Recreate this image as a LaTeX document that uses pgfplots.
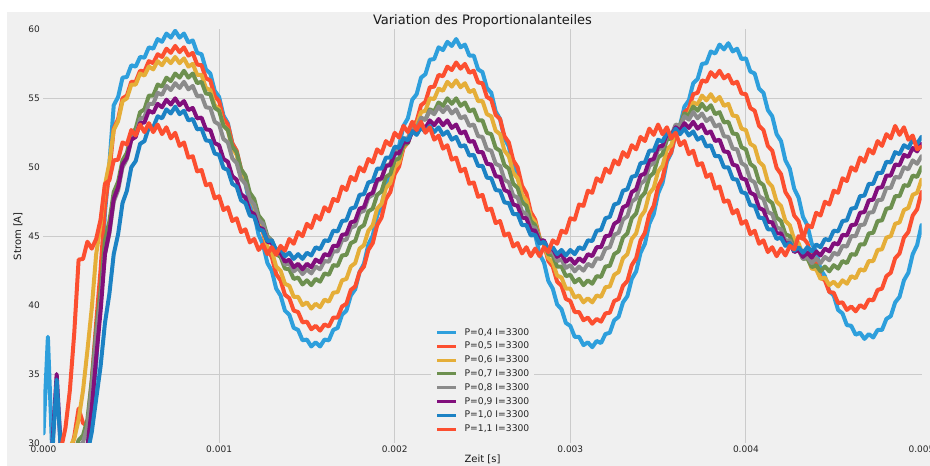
\documentclass[border=0pt]{standalone}
\usepackage{fontspec}
\setmainfont{DejaVu Sans}
\usepackage{pgfplots}
\usepackage{pgfplotstable}
\pgfplotsset{compat=1.18}

\definecolor{bgc}{HTML}{F0F0F0}
\definecolor{gridc}{HTML}{CBCBCB}
\definecolor{cA}{HTML}{2E9FDC}
\definecolor{cB}{HTML}{FC4F30}
\definecolor{cC}{HTML}{E5AE38}
\definecolor{cD}{HTML}{6D904F}
\definecolor{cE}{HTML}{8B8B8B}
\definecolor{cF}{HTML}{810F7C}
\definecolor{cG}{HTML}{1C82C4}
\definecolor{cH}{HTML}{FC4F30}

% Strom [A] ueber Zeit [s], I = 3300, P = 0,4 ... 1,1
\pgfplotstableread{
t p04 p05 p06 p07 p08 p09 p10 p11
0.000000 30.7 29.2 29.2 29.2 29.2 29.2 29.2 29.3
0.000025 37.7 28.8 28.8 28.8 28.8 29.05 28.8 28.7
0.000050 29.2 29.2 29.2 29.2 29.2 29.7 29.2 29.3
0.000075 28.8 28.8 28.8 28.8 28.8 35.0 34.6 28.85
0.000100 29.2 29.2 29.2 29.2 29.2 29.2 29.2 29.6
0.000125 28.8 28.8 29.05 28.8 28.8 28.8 28.8 31.1
0.000150 29.2 29.2 29.7 29.2 29.2 29.2 29.2 33.8
0.000175 28.8 30.45 30.3 29.3 29.05 28.8 28.8 37.95
0.000200 29.2 32.5 31.7 30.2 29.7 29.2 29.2 43.3
0.000225 29.05 31.45 33.8 30.55 30.05 29.05 28.8 43.35
0.000250 29.7 31.2 36.7 31.7 31.2 29.7 29.2 44.6
0.000275 32.3 34.55 39.8 34.55 34.05 32.55 30.8 44.1
0.000300 35.7 38.7 43.7 38.2 37.7 36.2 33.2 44.8
0.000325 40.8 42.55 45.8 41.05 40.3 39.55 35.55 46.2
0.000350 46.7 47.2 48.7 44.7 43.7 43.7 38.7 48.8
0.000375 50.2 49.6 50.3 46.05 45.2 45.3 40.8 49.05
0.000400 54.5 52.8 52.7 48.2 47.5 47.7 43.7 50.5
0.000425 55.1 53.5 53.35 48.95 48.35 48.55 45.15 50.55
0.000450 56.5 55.0 54.8 50.5 50.0 50.2 47.4 51.8
0.000475 56.55 55.2 55.0 51.05 50.6 50.7 48.3 51.65
0.000500 57.4 56.2 56.0 52.4 52.0 52.0 50.0 52.7
0.000525 57.3 56.2 56.0 52.8 52.35 52.2 50.45 52.3
0.000550 58.0 57.0 56.8 54.0 53.5 53.2 51.7 53.1
0.000575 57.95 56.95 56.65 54.2 53.65 53.25 51.9 52.55
0.000600 58.7 57.7 57.3 55.2 54.6 54.1 52.9 53.2
0.000625 58.6 57.55 57.1 55.2 54.6 53.95 52.9 52.55
0.000650 59.3 58.2 57.7 56.0 55.4 54.6 53.7 53.1
0.000675 59.1 58.0 57.4 55.85 55.25 54.35 53.55 52.4
0.000700 59.7 58.6 57.9 56.5 55.9 54.9 54.2 52.9
0.000725 59.4 58.3 57.55 56.25 55.6 54.55 53.9 52.1
0.000750 59.9 58.8 58.0 56.8 56.1 55.0 54.4 52.5
0.000775 59.4 58.35 57.55 56.5 55.75 54.5 53.85 51.55
0.000800 59.7 58.7 57.9 57.0 56.2 54.8 54.1 51.8
0.000825 59.05 58.1 57.3 56.5 55.65 54.15 53.4 50.7
0.000850 59.2 58.3 57.5 56.8 55.9 54.3 53.5 50.8
0.000875 58.3 57.45 56.7 56.1 55.15 53.55 52.75 49.7
0.000900 58.2 57.4 56.7 56.2 55.2 53.6 52.8 49.8
0.000925 57.1 56.45 55.75 55.35 54.35 52.75 51.95 48.7
0.000950 56.8 56.3 55.6 55.3 54.3 52.7 51.9 48.8
0.000975 55.55 55.15 54.5 54.3 53.3 51.75 51.0 47.75
0.001000 55.1 54.8 54.2 54.1 53.1 51.6 50.9 47.9
0.001025 53.75 53.55 53.05 53.0 52.05 50.6 49.95 46.9
0.001050 53.2 53.1 52.7 52.7 51.8 50.4 49.8 47.1
0.001075 51.75 51.75 51.4 51.5 50.65 49.35 48.8 46.1
0.001100 51.1 51.2 50.9 51.1 50.3 49.1 48.6 46.3
0.001125 49.55 49.85 49.6 49.85 49.15 48.05 47.6 45.3
0.001150 48.8 49.3 49.1 49.4 48.8 47.8 47.4 45.5
0.001175 47.3 47.85 47.75 48.15 47.65 46.8 46.5 44.55
0.001200 46.6 47.2 47.2 47.7 47.3 46.6 46.4 44.8
0.001225 45.1 45.85 45.9 46.5 46.2 45.65 45.5 44.0
0.001250 44.4 45.3 45.4 46.1 45.9 45.5 45.4 44.4
0.001275 43.05 44.0 44.25 45.0 44.9 44.6 44.65 43.7
0.001300 42.5 43.5 43.9 44.7 44.7 44.5 44.7 44.2
0.001325 41.2 42.25 42.8 43.7 43.8 43.75 44.0 43.65
0.001350 40.7 41.8 42.5 43.5 43.7 43.8 44.1 44.3
0.001375 39.6 40.75 41.55 42.65 42.95 43.15 43.55 43.95
0.001400 39.3 40.5 41.4 42.6 43.0 43.3 43.8 44.8
0.001425 38.35 39.6 40.6 41.9 42.45 42.75 43.35 44.45
0.001450 38.2 39.5 40.6 42.0 42.7 43.0 43.7 45.3
0.001475 37.45 38.75 40.0 41.5 42.25 42.6 43.35 45.0
0.001500 37.5 38.8 40.2 41.8 42.6 43.0 43.8 45.9
0.001525 37.0 38.25 39.75 41.45 42.3 42.75 43.6 45.6
0.001550 37.3 38.5 40.1 41.9 42.8 43.3 44.2 46.5
0.001575 37.0 38.15 39.85 41.7 42.6 43.1 44.05 46.2
0.001600 37.5 38.6 40.4 42.3 43.2 43.7 44.7 47.1
0.001625 37.45 38.45 40.25 42.2 43.15 43.6 44.65 46.8
0.001650 38.2 39.1 40.9 42.9 43.9 44.3 45.4 47.7
0.001675 38.35 39.1 40.95 42.85 43.9 44.3 45.35 47.55
0.001700 39.3 39.9 41.8 43.6 44.7 45.1 46.1 48.6
0.001725 39.6 40.1 41.9 43.65 44.75 45.15 46.15 48.35
0.001750 40.7 41.1 42.8 44.5 45.6 46.0 47.0 49.3
0.001775 41.15 41.35 43.05 44.65 45.75 46.1 47.1 49.05
0.001800 42.4 42.4 44.1 45.6 46.7 47.0 48.0 50.0
0.001825 43.0 42.8 44.35 45.8 46.85 47.1 48.05 49.7
0.001850 44.4 44.0 45.4 46.8 47.8 48.0 48.9 50.6
0.001875 45.05 44.5 45.8 47.0 48.0 48.15 49.0 50.35
0.001900 46.5 45.8 47.0 48.0 49.0 49.1 49.9 51.3
0.001925 47.2 46.35 47.35 48.25 49.15 49.2 49.9 51.0
0.001950 48.7 47.7 48.5 49.3 50.1 50.1 50.7 51.9
0.001975 49.4 48.2 48.85 49.5 50.25 50.15 50.7 51.6
0.002000 50.9 49.5 50.0 50.5 51.2 51.0 51.5 52.5
0.002025 51.55 50.05 50.35 50.65 51.25 51.0 51.4 52.15
0.002050 53.0 51.4 51.5 51.6 52.1 51.8 52.1 53.0
0.002075 53.55 51.8 51.8 51.75 52.1 51.8 51.95 52.55
0.002100 54.9 53.0 52.9 52.7 52.9 52.6 52.6 53.3
0.002125 55.3 53.35 53.05 52.7 52.85 52.45 52.35 52.7
0.002150 56.5 54.5 54.0 53.5 53.6 53.1 52.9 53.3
0.002175 56.75 54.75 54.1 53.45 53.45 52.85 52.55 52.5
0.002200 57.8 55.8 55.0 54.2 54.1 53.4 53.0 52.9
0.002225 57.85 55.85 54.95 54.05 53.85 53.05 52.55 52.0
0.002250 58.7 56.7 55.7 54.7 54.4 53.5 52.9 52.3
0.002275 58.5 56.6 55.55 54.45 54.0 53.05 52.35 51.35
0.002300 59.1 57.3 56.2 55.0 54.4 53.4 52.6 51.6
0.002325 58.8 57.05 55.85 54.6 53.9 52.85 52.0 50.55
0.002350 59.3 57.6 56.3 55.0 54.2 53.1 52.2 50.7
0.002375 58.7 57.15 55.8 54.45 53.55 52.45 51.5 49.7
0.002400 58.9 57.5 56.1 54.7 53.7 52.6 51.6 49.9
0.002425 58.1 56.85 55.45 54.05 53.0 51.85 50.85 48.8
0.002450 58.1 57.0 55.6 54.2 53.1 51.9 50.9 48.9
0.002475 57.1 56.15 54.8 53.4 52.25 51.1 50.1 47.85
0.002500 56.9 56.1 54.8 53.4 52.2 51.1 50.1 48.0
0.002525 55.75 55.1 53.85 52.5 51.3 50.25 49.25 46.9
0.002550 55.4 54.9 53.7 52.4 51.2 50.2 49.2 47.0
0.002575 54.05 53.8 52.65 51.4 50.25 49.35 48.35 45.95
0.002600 53.5 53.5 52.4 51.2 50.1 49.3 48.3 46.1
0.002625 52.1 52.25 51.2 50.15 49.1 48.35 47.45 45.05
0.002650 51.5 51.8 50.8 49.9 48.9 48.2 47.4 45.2
0.002675 50.05 50.5 49.6 48.8 47.95 47.3 46.6 44.25
0.002700 49.4 50.0 49.2 48.5 47.8 47.2 46.6 44.5
0.002725 47.9 48.65 48.0 47.45 46.8 46.35 45.8 43.75
0.002750 47.2 48.1 47.6 47.2 46.6 46.3 45.8 44.2
0.002775 45.75 46.75 46.4 46.1 45.7 45.45 45.05 43.55
0.002800 45.1 46.2 46.0 45.8 45.6 45.4 45.1 44.1
0.002825 43.7 44.9 44.85 44.8 44.7 44.65 44.45 43.55
0.002850 43.1 44.4 44.5 44.6 44.6 44.7 44.6 44.2
0.002875 41.75 43.2 43.4 43.7 43.85 44.0 44.0 43.85
0.002900 41.2 42.8 43.1 43.6 43.9 44.1 44.2 44.7
0.002925 40.05 41.7 42.15 42.8 43.2 43.5 43.7 44.45
0.002950 39.7 41.4 42.0 42.8 43.3 43.7 44.0 45.4
0.002975 38.7 40.45 41.2 42.1 42.7 43.15 43.6 45.25
0.003000 38.5 40.3 41.2 42.2 42.9 43.4 44.0 46.3
0.003025 37.7 39.5 40.55 41.65 42.45 43.0 43.7 46.2
0.003050 37.7 39.5 40.7 41.9 42.8 43.4 44.2 47.3
0.003075 37.1 38.9 40.2 41.45 42.5 43.15 44.05 47.2
0.003100 37.3 39.1 40.5 41.8 43.0 43.7 44.7 48.3
0.003125 36.95 38.65 40.2 41.55 42.8 43.55 44.65 48.15
0.003150 37.4 39.0 40.7 42.1 43.4 44.2 45.4 49.2
0.003175 37.25 38.8 40.6 42.05 43.35 44.2 45.45 48.95
0.003200 37.9 39.4 41.3 42.8 44.1 45.0 46.3 49.9
0.003225 38.0 39.45 41.35 42.85 44.2 45.05 46.4 49.6
0.003250 38.9 40.3 42.2 43.7 45.1 45.9 47.3 50.5
0.003275 39.15 40.45 42.4 43.9 45.25 46.1 47.4 50.2
0.003300 40.2 41.4 43.4 44.9 46.2 47.1 48.3 51.1
0.003325 40.65 41.75 43.7 45.2 46.45 47.25 48.4 50.75
0.003350 41.9 42.9 44.8 46.3 47.5 48.2 49.3 51.6
0.003375 42.45 43.4 45.2 46.65 47.75 48.4 49.4 51.3
0.003400 43.8 44.7 46.4 47.8 48.8 49.4 50.3 52.2
0.003425 44.45 45.25 46.85 48.15 49.05 49.55 50.35 51.9
0.003450 45.9 46.6 48.1 49.3 50.1 50.5 51.2 52.8
0.003475 46.6 47.2 48.5 49.6 50.3 50.6 51.2 52.35
0.003500 48.1 48.6 49.7 50.7 51.3 51.5 52.0 53.1
0.003525 48.85 49.2 50.1 50.95 51.4 51.55 51.85 52.4
0.003550 50.4 50.6 51.3 52.0 52.3 52.4 52.5 52.9
0.003575 51.05 51.1 51.6 52.1 52.3 52.25 52.25 52.1
0.003600 52.5 52.4 52.7 53.0 53.1 52.9 52.8 52.5
0.003625 53.05 52.8 52.85 53.05 53.0 52.65 52.4 51.6
0.003650 54.4 54.0 53.8 53.9 53.7 53.2 52.8 51.9
0.003675 54.85 54.25 53.85 53.75 53.45 52.85 52.3 50.95
0.003700 56.1 55.3 54.7 54.4 54.0 53.3 52.6 51.2
0.003725 56.4 55.4 54.55 54.1 53.55 52.8 52.0 50.15
0.003750 57.5 56.3 55.2 54.6 53.9 53.1 52.2 50.3
0.003775 57.55 56.2 54.85 54.15 53.35 52.45 51.5 49.3
0.003800 58.4 56.9 55.3 54.5 53.6 52.6 51.6 49.5
0.003825 58.25 56.55 54.8 53.85 52.95 51.9 50.8 48.45
0.003850 58.9 57.0 55.1 54.0 53.1 52.0 50.8 48.6
0.003875 58.55 56.45 54.45 53.25 52.25 51.15 50.0 47.5
0.003900 59.0 56.7 54.6 53.3 52.2 51.1 50.0 47.6
0.003925 58.4 56.05 53.75 52.45 51.35 50.2 49.15 46.65
0.003950 58.6 56.2 53.7 52.4 51.3 50.1 49.1 46.9
0.003975 57.85 55.35 52.8 51.45 50.3 49.2 48.2 45.9
0.004000 57.9 55.3 52.7 51.3 50.1 49.1 48.1 46.1
0.004025 56.95 54.3 51.7 50.25 49.1 48.15 47.25 45.15
0.004050 56.8 54.1 51.5 50.0 48.9 48.0 47.2 45.4
0.004075 55.7 53.0 50.4 48.95 47.9 47.05 46.35 44.45
0.004100 55.4 52.7 50.1 48.7 47.7 46.9 46.3 44.7
0.004125 54.15 51.55 48.95 47.65 46.75 46.05 45.5 43.85
0.004150 53.7 51.2 48.6 47.4 46.6 46.0 45.5 44.2
0.004175 52.4 49.95 47.5 46.35 45.65 45.2 44.8 43.55
0.004200 51.9 49.5 47.2 46.1 45.5 45.2 44.9 44.1
0.004225 50.5 48.2 46.1 45.15 44.7 44.45 44.3 43.6
0.004250 49.9 47.7 45.8 45.0 44.7 44.5 44.5 44.3
0.004275 48.45 46.5 44.75 44.15 43.95 43.85 43.95 44.05
0.004300 47.8 46.1 44.5 44.1 44.0 44.0 44.2 45.0
0.004325 46.4 44.9 43.6 43.35 43.35 43.5 43.8 44.8
0.004350 45.8 44.5 43.5 43.4 43.5 43.8 44.2 45.8
0.004375 44.45 43.35 42.65 42.75 43.05 43.45 43.9 45.65
0.004400 43.9 43.0 42.6 42.9 43.4 43.9 44.4 46.7
0.004425 42.6 42.0 41.9 42.45 43.05 43.6 44.2 46.5
0.004450 42.1 41.8 42.0 42.8 43.5 44.1 44.8 47.5
0.004475 41.0 40.95 41.45 42.45 43.25 43.9 44.7 47.3
0.004500 40.7 40.9 41.7 42.9 43.8 44.5 45.4 48.3
0.004525 39.65 40.15 41.35 42.65 43.65 44.4 45.35 48.15
0.004550 39.4 40.2 41.8 43.2 44.3 45.1 46.1 49.2
0.004575 38.55 39.65 41.55 43.05 44.25 45.05 46.15 49.0
0.004600 38.5 39.9 42.1 43.7 45.0 45.8 47.0 50.0
0.004625 37.85 39.55 41.95 43.65 45.0 45.85 47.05 49.75
0.004650 38.0 40.0 42.6 44.4 45.8 46.7 47.9 50.7
0.004675 37.55 39.8 42.5 44.4 45.85 46.75 47.95 50.4
0.004700 37.9 40.4 43.2 45.2 46.7 47.6 48.8 51.3
0.004725 37.65 40.35 43.2 45.25 46.75 47.65 48.8 51.0
0.004750 38.2 41.1 44.0 46.1 47.6 48.5 49.6 51.9
0.004775 38.2 41.2 44.05 46.15 47.65 48.55 49.6 51.55
0.004800 39.0 42.1 44.9 47.0 48.5 49.4 50.4 52.4
0.004825 39.2 42.35 45.0 47.05 48.5 49.4 50.35 52.1
0.004850 40.2 43.4 45.9 47.9 49.3 50.2 51.1 53.0
0.004875 40.6 43.75 46.0 47.9 49.25 50.15 50.95 52.35
0.004900 41.8 44.9 46.9 48.7 50.0 50.9 51.6 52.9
0.004925 42.35 45.3 47.05 48.65 49.85 50.75 51.4 52.0
0.004950 43.7 46.5 48.0 49.4 50.5 51.4 52.0 52.3
0.004975 44.35 46.95 48.15 49.3 50.25 51.15 51.7 51.3
0.005000 45.8 48.2 49.1 50.0 50.8 51.7 52.2 51.5
}\stromdaten

\begin{document}
\begin{tikzpicture}[x=1pt,y=1pt]
\path[use as bounding box] (0,0) rectangle (930,466);
\clip (0,0) rectangle (930,466);
\fill[white] (0,0) rectangle (930,466);
\fill[bgc] (7,0) rectangle (930,454);
\begin{axis}[
  at={(43.5pt,23pt)}, anchor=south west,
  width=878pt, height=413.6pt, scale only axis,
  xmin=0, xmax=0.005, ymin=30, ymax=60,
  axis line style={draw=none},
  major tick length=0pt,
  tick style={draw=none},
  /pgf/number format/assume math mode=true,
  scaled x ticks=false,
  xtick={0,0.001,0.002,0.003,0.004,0.005},
  xticklabels={0.000,0.001,0.002,0.003,0.004,0.005},
  ytick={30,35,40,45,50,55,60},
  extra x ticks={0.001,0.002,0.003,0.004},
  extra x tick labels={},
  extra y ticks={35,45,55},
  extra y tick labels={},
  extra tick style={grid=major, major grid style={gridc, line width=1pt}},
  xticklabel style={font=\fontsize{9}{10}\selectfont, text=black!85, inner sep=0pt, anchor=north, yshift=-2.5pt},
  yticklabel style={font=\fontsize{9}{10}\selectfont, text=black!85, inner sep=0pt, anchor=east, xshift=-3.5pt},
  every axis title shift=0pt,
  title={Variation des Proportionalanteiles},
  title style={font=\fontsize{13}{15}\selectfont, text=black!90, at={(axis description cs:0.5,1.021)}, anchor=center, inner sep=0pt},
  xlabel={Zeit [s]},
  xlabel style={font=\fontsize{10}{12}\selectfont, text=black!90, at={(axis description cs:0.5,-0.0387)}, anchor=center, inner sep=0pt},
  ylabel={Strom [A]},
  ylabel style={font=\fontsize{10}{12}\selectfont, text=black!90, at={(axis description cs:-0.029,0.5)}, anchor=center, inner sep=0pt},
  legend cell align=left,
  legend image code/.code={\draw[#1, line width=3pt, line cap=butt] (0pt,0pt) -- (19pt,0pt);},
  legend style={at={(axis description cs:0.5,0)}, anchor=south, yshift=6pt,
    fill=bgc, draw=bgc, inner xsep=4pt, inner ysep=3.5pt,
    font=\fontsize{9.2}{11}\selectfont, text=black!85,
    row sep=5.3pt,
    nodes={inner sep=0pt, text height=7pt, text depth=1.5pt},
    /tikz/every odd column/.append style={column sep=7pt}},
  every axis plot/.append style={line width=4pt, line join=round, line cap=round},
]
\addplot[cA] table[x=t, y=p04] {\stromdaten};
\addlegendentry{P=0,4 I=3300}
\addplot[cB] table[x=t, y=p05] {\stromdaten};
\addlegendentry{P=0,5 I=3300}
\addplot[cC] table[x=t, y=p06] {\stromdaten};
\addlegendentry{P=0,6 I=3300}
\addplot[cD] table[x=t, y=p07] {\stromdaten};
\addlegendentry{P=0,7 I=3300}
\addplot[cE] table[x=t, y=p08] {\stromdaten};
\addlegendentry{P=0,8 I=3300}
\addplot[cF] table[x=t, y=p09] {\stromdaten};
\addlegendentry{P=0,9 I=3300}
\addplot[cG] table[x=t, y=p10] {\stromdaten};
\addlegendentry{P=1,0 I=3300}
\addplot[cH] table[x=t, y=p11] {\stromdaten};
\addlegendentry{P=1,1 I=3300}
\end{axis}
\end{tikzpicture}
\end{document}
